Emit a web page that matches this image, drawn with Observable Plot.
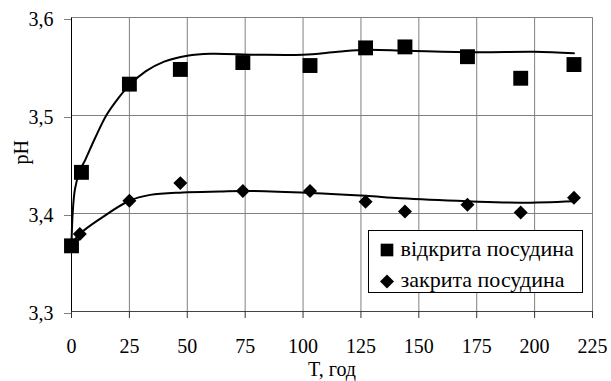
<!DOCTYPE html>
<html><head><meta charset="utf-8">
<script src="https://cdn.jsdelivr.net/npm/d3@7"></script>
<script src="https://cdn.jsdelivr.net/npm/@observablehq/plot@0.6"></script>
<style>body{margin:0;background:#fff}</style>
</head><body>
<div id="wrap" style="position:relative"></div>
<script>
// measured points
const tOpen = [0, 4.3, 25, 47, 74, 103, 127, 144, 171, 194, 217];
const phOpen = [3.367, 3.442, 3.532, 3.547, 3.554, 3.551, 3.569, 3.570, 3.560, 3.538, 3.552];
const tClosed = [0, 3.6, 25, 47, 74, 103, 127, 144, 171, 194, 217];
const phClosed = [3.368, 3.379, 3.413, 3.431, 3.423, 3.423, 3.412, 3.402, 3.409, 3.401, 3.416];
// trend curves
const fitOpenT = [0, 0.5, 1.5, 3.5, 6, 10, 15, 20, 25, 32, 40, 50, 60, 80, 100, 115, 127, 145, 175, 200, 217];
const fitOpenPh = [3.368, 3.40, 3.425, 3.443, 3.455, 3.476, 3.500, 3.517, 3.531, 3.545, 3.555, 3.561, 3.563, 3.562, 3.562, 3.565, 3.567, 3.566, 3.5645, 3.565, 3.5635];
const fitClosedT = [0, 4, 12, 25, 34, 48, 64, 75, 103, 127, 142, 171, 194, 217];
const fitClosedPh = [3.369, 3.380, 3.394, 3.413, 3.419, 3.4215, 3.4225, 3.423, 3.421, 3.418, 3.4155, 3.4125, 3.411, 3.4125];
const xTicks = [0, 25, 50, 75, 100, 125, 150, 175, 200, 225];
const yTicks = [3.3, 3.4, 3.5, 3.6];
const legendLabels = ["відкрита посудина", "закрита посудина"];
const xLabel = "T, год";
const yLabel = "pH";

const openPts = tOpen.map((t, i) => ({t, ph: phOpen[i]}));
const closedPts = tClosed.map((t, i) => ({t, ph: phClosed[i]}));
const openFit = fitOpenT.map((t, i) => ({t, ph: fitOpenPh[i]}));
const closedFit = fitClosedT.map((t, i) => ({t, ph: fitClosedPh[i]}));
const fmt = d => d.toFixed(1).replace(".", ",");
const vGrid = xTicks.map(t => ({x1: t, x2: t, y1: yTicks[0], y2: yTicks[yTicks.length - 1]}));
const hGrid = yTicks.map(p => ({x1: xTicks[0], x2: xTicks[xTicks.length - 1], y1: p, y2: p}));

const chart = Plot.plot({
  width: 611, height: 381,
  marginLeft: 71, marginRight: 19, marginTop: 17, marginBottom: 70,
  style: {fontFamily: "'Liberation Serif', serif", fontSize: "20px"},
  x: {domain: [0, 225]},
  y: {domain: [3.3, 3.6]},
  marks: [
    Plot.link(vGrid, {x1: "x1", x2: "x2", y1: "y1", y2: "y2", stroke: "#808080"}),
    Plot.link(hGrid, {x1: "x1", x2: "x2", y1: "y1", y2: "y2", stroke: "#808080"}),
    Plot.link(hGrid.slice(0, 1), {x1: "x1", x2: "x2", y1: "y1", y2: "y2", stroke: "#444"}),
    Plot.link(vGrid.slice(0, 1), {x1: "x1", x2: "x2", y1: "y1", y2: "y2", stroke: "#000"}),
    Plot.axisX({ticks: xTicks, tickSize: 7, tickPadding: 20, stroke: "#333", label: null, fontFamily: "Liberation Serif", fontSize: 20}),
    Plot.axisY({ticks: yTicks, tickSize: 7, tickPadding: 11, stroke: "#808080", label: null, tickFormat: fmt, dy: 2, fontFamily: "Liberation Serif", fontSize: 20}),
    Plot.line(openFit, {x: "t", y: "ph", curve: "catmull-rom", stroke: "#000", strokeWidth: 2}),
    Plot.line(closedFit, {x: "t", y: "ph", curve: "catmull-rom", stroke: "#000", strokeWidth: 2}),
    Plot.dot(openPts, {x: "t", y: "ph", symbol: "square", r: 8.4, fill: "#000"}),
    Plot.dot(closedPts, {x: "t", y: "ph", symbol: "diamond2", r: 6.3, fill: "#000"}),
    Plot.text([xLabel], {frameAnchor: "bottom", dy: 58, lineAnchor: "middle", fontFamily: "Liberation Serif", fontSize: 20}),
    Plot.text([yLabel], {frameAnchor: "left", dx: -50, rotate: -90, lineAnchor: "middle", fontFamily: "Liberation Serif", fontSize: 20})
  ]
});
document.getElementById("wrap").appendChild(chart);

// legend box drawn into the same svg
const lg = d3.select(chart).append("g").attr("text-anchor", "start");
lg.append("rect").attr("x", 368.5).attr("y", 230.5).attr("width", 214).attr("height", 62).attr("fill", "#fff").attr("stroke", "#000");
lg.append("path").attr("d", d3.symbol(d3.symbolSquare, 160)()).attr("transform", "translate(387,250)").attr("fill", "#000");
lg.append("path").attr("d", d3.symbol(d3.symbolDiamond2, 125)()).attr("transform", "translate(387,281.5)").attr("fill", "#000");
lg.selectAll("text.lgt").data(legendLabels).join("text").attr("class", "lgt")
  .attr("x", 400.5).attr("y", (d, i) => i ? 287 : 255.5).attr("fill", "#000")
  .attr("font-family", "Liberation Serif").attr("font-size", 22)
  .style("font-family", "'Liberation Serif', serif").style("font-size", "22px")
  .text(d => d);
</script>
</body></html>
